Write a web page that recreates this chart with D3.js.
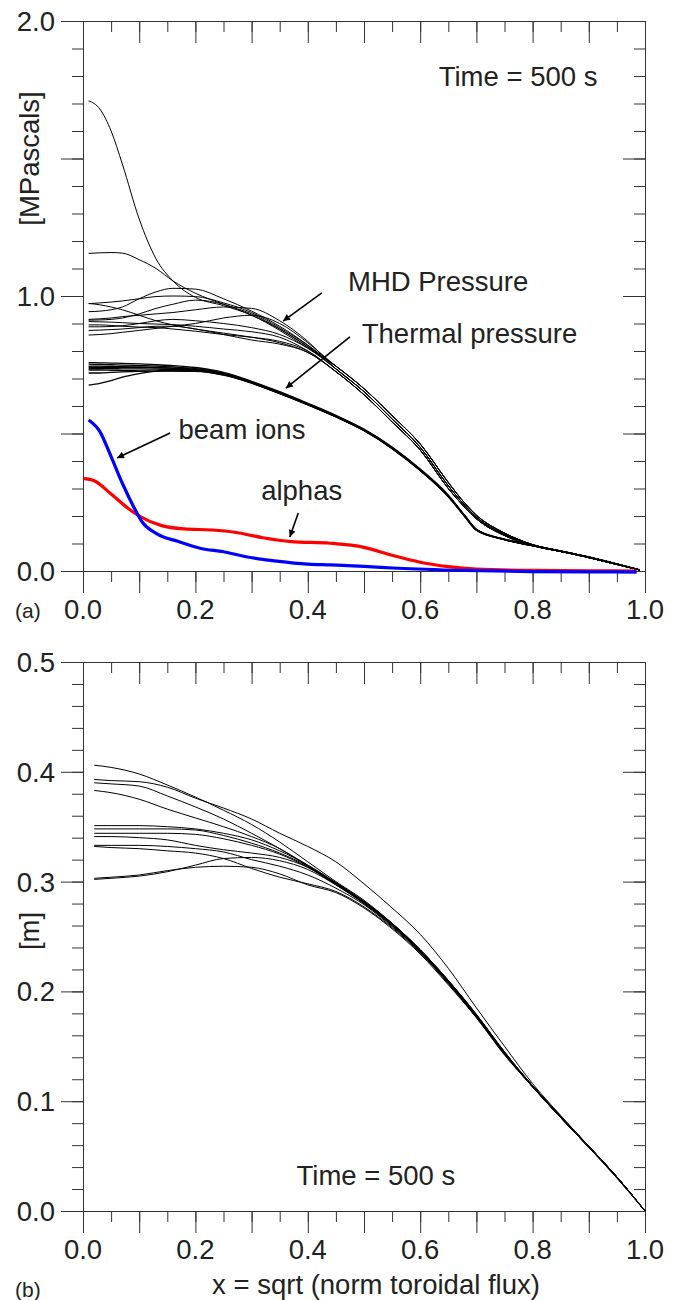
<!DOCTYPE html>
<meta charset="utf-8" />
<style>
  body { margin: 0; background: #fff; }
  text { font-family: "Liberation Sans", Arial, Helvetica, sans-serif; fill: #222; }
  .tick line, .domain { stroke: #333; }
  .mhd, .thermal, .radius { fill: none; stroke: #000; }
</style>
<body>
<div id="chart"></div>
<script src="https://d3js.org/d3.v7.min.js"></script>
<script>
  // ---- panel (a): pressure profiles ----
  const xA = [0.01,0.03,0.05,0.07,0.1,0.13,0.16,0.2,0.25,0.3,0.35,0.4,0.45,0.5,0.55,0.6,0.65,0.68,0.7,0.75,0.8,0.85,0.9,0.95,0.99];

  const mhdPressure = [
    [1.71,1.68,1.60,1.48,1.28,1.135,1.055,0.995,0.965,0.93,0.875,0.81,0.745,0.663,0.565,0.462,0.322,0.245,0.203,0.138,0.096,0.073,0.051,0.026,0.004],
    [1.155,1.157,1.158,1.156,1.132,1.10,1.055,1.01,0.97,0.935,0.88,0.815,0.745,0.663,0.565,0.462,0.322,0.245,0.203,0.138,0.096,0.073,0.051,0.026,0.004],
    [0.972,0.975,0.978,0.982,0.99,0.998,1.0,0.998,0.975,0.94,0.885,0.82,0.735,0.652,0.553,0.45,0.31,0.237,0.196,0.133,0.094,0.072,0.05,0.025,0.004],
    [0.973,0.968,0.96,0.95,0.93,0.91,0.895,0.88,0.865,0.85,0.83,0.795,0.725,0.641,0.542,0.44,0.3,0.23,0.19,0.129,0.092,0.071,0.049,0.024,0.004],
    [0.943,0.945,0.95,0.96,0.99,1.015,1.028,1.025,0.99,0.945,0.89,0.822,0.745,0.663,0.565,0.462,0.322,0.245,0.203,0.138,0.096,0.073,0.051,0.026,0.004],
    [0.915,0.917,0.92,0.925,0.93,0.935,0.94,0.95,0.96,0.955,0.91,0.835,0.735,0.652,0.553,0.45,0.31,0.237,0.196,0.133,0.094,0.072,0.05,0.025,0.004],
    [0.912,0.913,0.915,0.92,0.935,0.955,0.97,0.985,0.97,0.93,0.88,0.815,0.735,0.652,0.553,0.45,0.31,0.237,0.196,0.133,0.094,0.072,0.05,0.025,0.004],
    [0.907,0.906,0.905,0.903,0.9,0.898,0.896,0.89,0.88,0.87,0.85,0.80,0.725,0.641,0.542,0.44,0.3,0.23,0.19,0.129,0.092,0.071,0.049,0.024,0.004],
    [0.895,0.895,0.893,0.89,0.887,0.885,0.88,0.872,0.86,0.85,0.835,0.80,0.725,0.641,0.542,0.44,0.3,0.23,0.19,0.129,0.092,0.071,0.049,0.024,0.004],
    [0.888,0.888,0.889,0.892,0.9,0.91,0.915,0.91,0.9,0.885,0.86,0.81,0.735,0.652,0.553,0.45,0.31,0.237,0.196,0.133,0.094,0.072,0.05,0.025,0.004],
    [0.875,0.876,0.878,0.88,0.885,0.89,0.89,0.88,0.86,0.84,0.825,0.795,0.725,0.641,0.542,0.44,0.3,0.23,0.19,0.129,0.092,0.071,0.049,0.024,0.004],
    [0.858,0.86,0.863,0.868,0.875,0.882,0.89,0.9,0.92,0.93,0.9,0.83,0.745,0.663,0.565,0.462,0.322,0.245,0.203,0.138,0.096,0.073,0.051,0.026,0.004]
  ];

  const thermalPressure = [
    [0.758,0.757,0.756,0.755,0.753,0.75,0.747,0.74,0.722,0.69,0.652,0.610,0.566,0.516,0.451,0.371,0.276,0.2,0.152,0.116,0.094,0.073,0.051,0.026,0.004],
    [0.752,0.751,0.75,0.749,0.747,0.745,0.742,0.736,0.72,0.688,0.65,0.608,0.564,0.514,0.449,0.369,0.274,0.199,0.151,0.115,0.093,0.072,0.05,0.025,0.004],
    [0.745,0.745,0.744,0.743,0.742,0.74,0.738,0.733,0.717,0.686,0.648,0.607,0.563,0.513,0.448,0.368,0.273,0.198,0.15,0.115,0.093,0.072,0.05,0.025,0.004],
    [0.741,0.741,0.741,0.741,0.74,0.739,0.737,0.732,0.716,0.685,0.647,0.606,0.562,0.512,0.447,0.367,0.272,0.197,0.149,0.114,0.092,0.071,0.049,0.024,0.004],
    [0.736,0.736,0.736,0.735,0.735,0.734,0.733,0.73,0.714,0.684,0.646,0.605,0.561,0.511,0.446,0.366,0.271,0.196,0.149,0.114,0.092,0.071,0.049,0.024,0.004],
    [0.731,0.731,0.73,0.729,0.728,0.727,0.727,0.726,0.712,0.683,0.645,0.604,0.56,0.51,0.445,0.365,0.27,0.196,0.148,0.114,0.092,0.071,0.049,0.024,0.004],
    [0.72,0.72,0.722,0.724,0.726,0.727,0.728,0.727,0.713,0.684,0.646,0.605,0.561,0.511,0.446,0.366,0.272,0.197,0.149,0.114,0.092,0.071,0.049,0.024,0.004],
    [0.676,0.682,0.692,0.705,0.718,0.727,0.731,0.73,0.716,0.686,0.648,0.607,0.563,0.513,0.448,0.368,0.274,0.199,0.151,0.115,0.093,0.072,0.05,0.025,0.004]
  ];

  const beamX = [0.01,0.03,0.05,0.07,0.09,0.105,0.13,0.17,0.21,0.25,0.29,0.345,0.4,0.44,0.5,0.56,0.68,0.8,0.9,0.985];
  const beamIons = [0.549,0.507,0.416,0.319,0.234,0.179,0.137,0.107,0.082,0.07,0.052,0.036,0.025,0.022,0.017,0.01,0.002,-0.002,-0.003,-0.004];

  const alphaX = [0.0,0.02,0.05,0.08,0.1,0.14,0.18,0.23,0.27,0.32,0.37,0.44,0.5,0.55,0.6,0.65,0.7,0.8,0.9,0.985];
  const alphas = [0.337,0.328,0.28,0.228,0.2,0.165,0.153,0.149,0.141,0.121,0.107,0.101,0.086,0.057,0.032,0.016,0.007,0.002,0.001,0.0];

  // ---- panel (b): minor radius profiles ----
  const xB = [0.02,0.05,0.1,0.15,0.2,0.25,0.3,0.35,0.4,0.45,0.5,0.55,0.6,0.65,0.7,0.75,0.8,0.85,0.9,0.95,1.0];
  const radius = [
    [0.406,0.404,0.398,0.388,0.377,0.365,0.352,0.336,0.318,0.3,0.283,0.262,0.238,0.21,0.179,0.145,0.114,0.086,0.059,0.031,0.0],
    [0.393,0.392,0.391,0.386,0.376,0.367,0.357,0.344,0.332,0.318,0.298,0.276,0.252,0.221,0.185,0.15,0.116,0.087,0.059,0.031,0.0],
    [0.39,0.389,0.387,0.378,0.368,0.357,0.344,0.33,0.315,0.299,0.282,0.262,0.238,0.21,0.179,0.144,0.114,0.086,0.059,0.031,0.0],
    [0.383,0.381,0.375,0.366,0.358,0.35,0.341,0.33,0.314,0.298,0.281,0.261,0.237,0.209,0.178,0.144,0.114,0.086,0.059,0.031,0.0],
    [0.351,0.351,0.351,0.35,0.348,0.344,0.338,0.328,0.315,0.299,0.282,0.262,0.238,0.21,0.179,0.145,0.114,0.086,0.059,0.031,0.0],
    [0.348,0.348,0.348,0.348,0.347,0.342,0.335,0.326,0.314,0.298,0.281,0.261,0.237,0.209,0.178,0.144,0.114,0.086,0.059,0.031,0.0],
    [0.344,0.344,0.344,0.344,0.343,0.339,0.333,0.325,0.313,0.297,0.28,0.26,0.236,0.208,0.177,0.143,0.113,0.085,0.058,0.031,0.0],
    [0.341,0.341,0.34,0.338,0.333,0.329,0.326,0.322,0.313,0.298,0.281,0.261,0.237,0.209,0.178,0.144,0.114,0.086,0.059,0.031,0.0],
    [0.333,0.333,0.333,0.332,0.33,0.327,0.32,0.314,0.306,0.294,0.279,0.259,0.236,0.208,0.177,0.143,0.113,0.085,0.058,0.031,0.0],
    [0.332,0.331,0.33,0.328,0.326,0.321,0.312,0.304,0.298,0.291,0.277,0.258,0.235,0.207,0.176,0.143,0.113,0.085,0.058,0.03,0.0],
    [0.302,0.303,0.305,0.309,0.315,0.321,0.322,0.319,0.311,0.297,0.28,0.26,0.236,0.208,0.177,0.143,0.113,0.085,0.058,0.031,0.0],
    [0.303,0.304,0.306,0.31,0.313,0.314,0.313,0.307,0.297,0.29,0.276,0.257,0.234,0.206,0.176,0.142,0.113,0.085,0.058,0.03,0.0]
  ];

  // tick labels
  const xLabels = [0, 0.2, 0.4, 0.6, 0.8, 1.0];
  const yLabelsA = [0, 1, 2];
  const yLabelsB = [0, 0.1, 0.2, 0.3, 0.4, 0.5];

  // annotations [text, x, y] in data units (text start / baseline)
  const notesA = [
    ["Time = 500 s", 0.633, 1.764],
    ["MHD Pressure", 0.4715, 1.02],
    ["Thermal pressure", 0.496, 0.83],
    ["beam ions", 0.17, 0.479],
    ["alphas", 0.317, 0.258]
  ];
  // arrows [x1, y1, x2, y2] in data units, head at (x2, y2)
  const arrowsA = [
    [0.425, 1.011, 0.356, 0.909],
    [0.475, 0.851, 0.361, 0.665],
    [0.155, 0.502, 0.0605, 0.411],
    [0.383, 0.211, 0.368, 0.124]
  ];
  const notesB = [["Time = 500 s", 0.38, 0.0235]];

  const W = 682, H = 1300;
  const left = 83, right = 645;

  const svg = d3.select("#chart").append("svg")
    .attr("width", W).attr("height", H)
    .style("background", "#fff");

  svg.append("defs").append("marker")
    .attr("id", "head")
    .attr("viewBox", "0 0 10 10")
    .attr("refX", 10).attr("refY", 5)
    .attr("markerWidth", 9).attr("markerHeight", 7)
    .attr("markerUnits", "userSpaceOnUse")
    .attr("orient", "auto")
    .append("path").attr("d", "M0,0L10,5L0,10Z").attr("fill", "#000");

  const x = d3.scaleLinear().domain([0, 1]).range([left, right]);

  const drawAxes = (y, majorY, minorY, yLabels, yFmt) => {
    const g = svg.append("g");
    const y0 = y(0), yTop = y.range()[1];

    const put = (axis, tr) => g.append("g").attr("transform", tr).call(axis);

    put(d3.axisBottom(x).tickValues(x.ticks(20)).tickSize(11).tickFormat(""), `translate(0,${y0})`);
    put(d3.axisBottom(x).tickValues(x.ticks(10)).tickSize(22).tickFormat(""), `translate(0,${y0})`);
    put(d3.axisTop(x).tickValues(x.ticks(20)).tickSize(-11).tickFormat(""), `translate(0,${yTop})`);
    put(d3.axisTop(x).tickValues(x.ticks(10)).tickSize(-22).tickFormat(""), `translate(0,${yTop})`);
    put(d3.axisLeft(y).tickValues(minorY).tickSize(11).tickFormat(""), `translate(${left},0)`);
    put(d3.axisLeft(y).tickValues(majorY).tickSize(22).tickFormat(""), `translate(${left},0)`);
    put(d3.axisRight(y).tickValues(minorY).tickSize(-11).tickFormat(""), `translate(${right},0)`);
    put(d3.axisRight(y).tickValues(majorY).tickSize(-22).tickFormat(""), `translate(${right},0)`);

    g.selectAll(".domain").attr("stroke", "#000");

    g.selectAll(".xl").data(xLabels).join("text")
      .attr("x", d => x(d)).attr("y", y0 + 48)
      .attr("text-anchor", "middle").style("font-size", "27.5px")
      .text(d => d.toFixed(1));

    g.selectAll(".yl").data(yLabels).join("text")
      .attr("x", left - 28).attr("y", d => y(d) + 10)
      .attr("text-anchor", "end").style("font-size", "27.5px")
      .text(d => yFmt(d));
  };

  // ---- panel (a) ----
  const yA = d3.scaleLinear().domain([0, 2]).range([571, 21]);
  drawAxes(yA, yA.ticks(4), yA.ticks(20), yLabelsA, d => d.toFixed(1));

  const lineA = d3.line().x((d, i) => x(xA[i])).y(d => yA(d)).curve(d3.curveMonotoneX);

  svg.append("g").selectAll("path").data(thermalPressure).join("path")
    .attr("class", "thermal").attr("stroke-width", 1.3).attr("d", lineA);
  svg.append("g").selectAll("path").data(mhdPressure).join("path")
    .attr("class", "mhd").attr("stroke-width", 1).attr("d", lineA);

  svg.append("path")
    .attr("fill", "none").attr("stroke", "#ff0000").attr("stroke-width", 3.2)
    .attr("d", d3.line().x((d, i) => x(alphaX[i])).y(d => yA(d)).curve(d3.curveMonotoneX)(alphas));
  svg.append("path")
    .attr("fill", "none").attr("stroke", "#0000ff").attr("stroke-width", 3.2)
    .attr("d", d3.line().x((d, i) => x(beamX[i])).y(d => yA(d)).curve(d3.curveMonotoneX)(beamIons));

  svg.append("g").selectAll("line").data(arrowsA).join("line")
    .attr("x1", d => x(d[0])).attr("y1", d => yA(d[1]))
    .attr("x2", d => x(d[2])).attr("y2", d => yA(d[3]))
    .attr("stroke", "#000").attr("stroke-width", 1.6)
    .attr("marker-end", "url(#head)");

  svg.append("g").selectAll("text").data(notesA).join("text")
    .attr("x", d => x(d[1])).attr("y", d => yA(d[2]))
    .style("font-size", "27.5px").text(d => d[0]);

  svg.append("text").attr("transform", `translate(39,${yA(1.5)}) rotate(-90)`)
    .attr("text-anchor", "middle").style("font-size", "27.5px").text("[MPascals]");
  svg.append("text").attr("x", 15).attr("y", 618).style("font-size", "21px").text("(a)");

  // ---- panel (b) ----
  const yB = d3.scaleLinear().domain([0, 0.5]).range([1211, 662]);
  drawAxes(yB, yB.ticks(5), yB.ticks(25), yLabelsB, d => d.toFixed(1));

  const lineB = d3.line().x((d, i) => x(xB[i])).y(d => yB(d)).curve(d3.curveMonotoneX);
  svg.append("g").selectAll("path").data(radius).join("path")
    .attr("class", "radius").attr("stroke-width", 1).attr("d", lineB);

  svg.append("g").selectAll("text").data(notesB).join("text")
    .attr("x", d => x(d[1])).attr("y", d => yB(d[2]))
    .style("font-size", "27.5px").text(d => d[0]);

  svg.append("text").attr("transform", `translate(39,${yB(0.255)}) rotate(-90)`)
    .attr("text-anchor", "middle").style("font-size", "27.5px").text("[m]");
  svg.append("text").attr("x", 376).attr("y", 1294)
    .attr("text-anchor", "middle").style("font-size", "27.5px").text("x = sqrt (norm toroidal flux)");
  svg.append("text").attr("x", 15).attr("y", 1297).style("font-size", "21px").text("(b)");
</script>
</body>
